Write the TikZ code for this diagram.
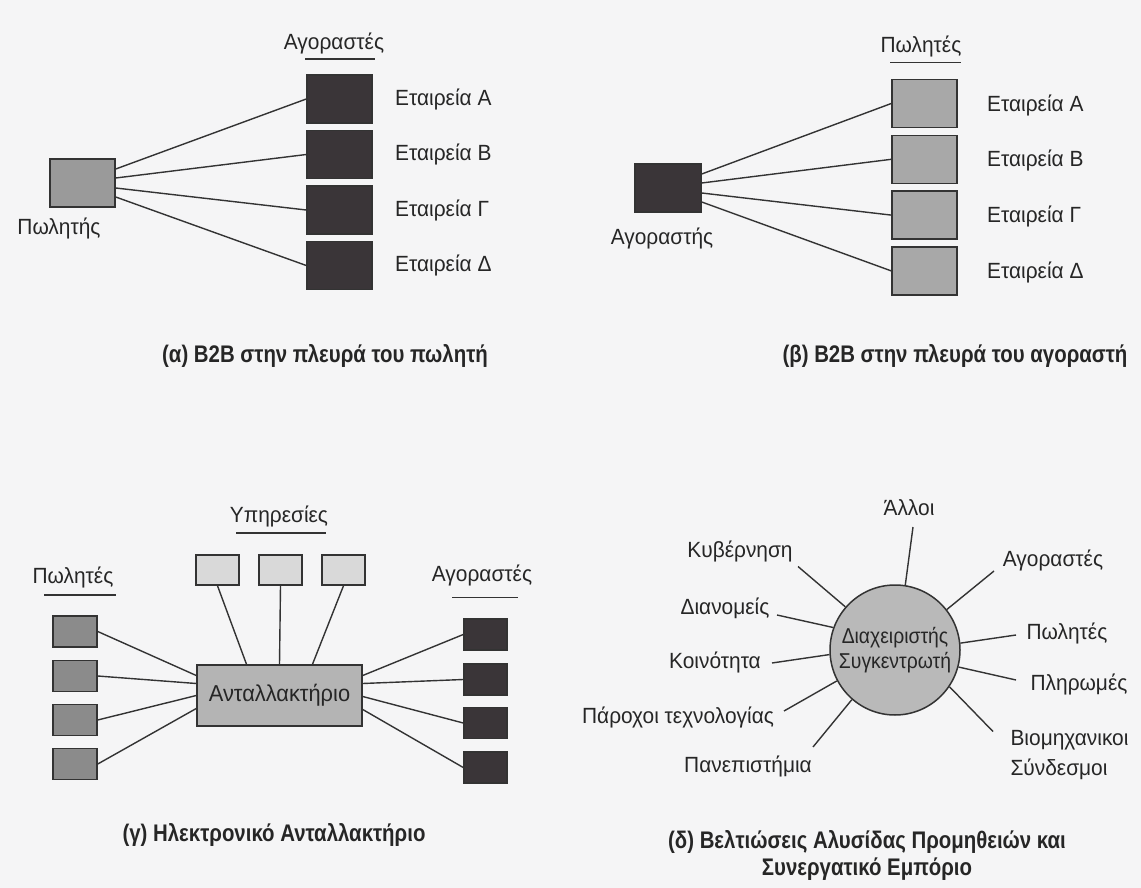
\documentclass[tikz,border=0pt]{standalone}
\usepackage{fontspec}
\setmainfont{Liberation Sans}
\newfontfamily\lblfont[FakeStretch=0.95]{Liberation Sans}
\newfontfamily\hubfont[FakeStretch=0.9]{Liberation Sans}
\newfontfamily\capfont[FakeStretch=0.85]{Liberation Sans}
\usetikzlibrary{calc}
\definecolor{paper}{HTML}{F5F5F6}
\definecolor{ink}{HTML}{262626}
\definecolor{edge}{HTML}{333333}
\definecolor{darkfill}{HTML}{3A3538}
\definecolor{midfill}{HTML}{9A9A9A}
\definecolor{greyfill}{HTML}{A8A8A8}
\definecolor{exfill}{HTML}{B4B4B4}
\definecolor{lightfill}{HTML}{D9D9D9}
\definecolor{hubfill}{HTML}{B9B9B9}
\tikzset{
  lbl/.style={font=\lblfont\fontsize{22}{26}\selectfont, text=ink, inner sep=0pt},
  capt/.style={font=\capfont\bfseries\fontsize{24}{27}\selectfont, text=ink, inner sep=0pt, align=center},
  box/.style={draw=edge, line width=1.5pt, inner sep=0pt},
  bigbox/.style={box, minimum width=65pt, minimum height=48pt},
  smallbox/.style={box, minimum width=44pt, minimum height=31pt},
  darkbox/.style={bigbox, fill=darkfill},
  greybox/.style={bigbox, fill=greyfill},
  link/.style={draw=edge, line width=1.4pt},
  uline/.style={draw=edge, line width=1.5pt},
}
\begin{document}
\begin{tikzpicture}[x=1pt, y=-1pt]
\fill[paper] (0,0) rectangle (1141,888);
\useasboundingbox (0,0) rectangle (1141,888);

% ---------- (a) seller-side B2B ----------
\node[bigbox, fill=midfill] (sA) at (82.5,183) {};
\node[lbl] (sAl) at (59,228) {Πωλητής};
\node[lbl] (hA) at (334,43) {Αγοραστές};
\draw[uline] (305,59) -- (375,59);
\foreach \i/\y/\t in {1/99/Α, 2/154.5/Β, 3/210/Γ, 4/265.5/Δ}{
  \node[darkbox] (a\i) at (339.5,\y) {};
  \node[lbl, anchor=west] (a\i l) at (395,\y) {Εταιρεία \t};
}
\foreach \i/\d in {1/-14, 2/-5, 3/5, 4/14}{
  \draw[link] ($(sA.east)+(0,\d)$) -- (a\i.west);
}
\node[capt] (capA) at (325,356) {(α) B2B στην πλευρά του πωλητή};

% ---------- (b) buyer-side B2B ----------
\node[darkbox, minimum width=66pt] (bB) at (668,188) {};
\node[lbl] (bBl) at (662,238) {Αγοραστής};
\node[lbl] (hB) at (921,46) {Πωλητές};
\draw[uline] (890,62.5) -- (961,62.5);
\foreach \i/\y/\t in {1/103.5/Α, 2/159.3/Β, 3/215.1/Γ, 4/270.9/Δ}{
  \node[greybox] (b\i) at (924.5,\y) {};
  \node[lbl, anchor=west] (b\i l) at (987,\y+1.5) {Εταιρεία \t};
}
\foreach \i/\d in {1/-14, 2/-5, 3/5, 4/14}{
  \draw[link] ($(bB.east)+(0,\d)$) -- (b\i.west);
}
\node[capt] (capB) at (955,356) {(β) B2B στην πλευρά του αγοραστή};

% ---------- (c) electronic exchange ----------
\node[box, fill=exfill, minimum width=165pt, minimum height=61pt,
      font=\lblfont\fontsize{23}{27}\selectfont, text=ink] (ex) at (279.5,695.5) {Ανταλλακτήριο};
\node[lbl] (hS) at (279,516) {Υπηρεσίες};
\draw[uline] (236,533) -- (326,533);
\node[lbl] (hP) at (73,577) {Πωλητές};
\draw[uline] (44,595) -- (116,595);
\node[lbl] (hG) at (482,575) {Αγοραστές};
\draw[uline] (452,597.5) -- (518,597.5);
\foreach \i/\x/\d in {1/217.5/-33, 2/280.5/0, 3/343.5/33}{
  \node[box, fill=lightfill, minimum width=43pt, minimum height=30pt] (s\i) at (\x,570) {};
  \draw[link] (s\i.south) -- ($(ex.north)+(\d,0)$);
}
\foreach \i/\y/\d in {1/631.5/-20, 2/676/-12, 3/720/0, 4/764/13}{
  \node[smallbox, fill=midfill!90!black] (p\i) at (75,\y) {};
  \draw[link] (p\i.east) -- ($(ex.west)+(0,\d)$);
}
\foreach \i/\y/\d in {1/634.5/-20, 2/679.5/-12, 3/723/1, 4/767.5/14}{
  \node[smallbox, minimum width=43pt, fill=darkfill] (g\i) at (485.5,\y) {};
  \draw[link] ($(ex.east)+(0,\d)$) -- (g\i.west);
}
\node[capt] (capC) at (274,835) {(γ) Ηλεκτρονικό Ανταλλακτήριο};

% ---------- (d) collaborative commerce hub ----------
\node[circle, draw=edge, line width=1.5pt, fill=hubfill, minimum size=130pt, inner sep=0pt,
      align=center, text=ink, font=\hubfont\fontsize{21.5}{25}\selectfont] (hub) at (895,650)
      {Διαχειριστής\\Συγκεντρωτή};
\foreach \n/\lx/\ly/\t/\ox/\oy/\ang in {
   allo/909/508/Άλλοι/913/527/81.4,
   kyv/740/551/Κυβέρνηση/798/566.5/139.5,
   agor/1053/560/Αγοραστές/994/571/38.5,
   dian/725/608/Διανομείς/777/615/160.5,
   pol/1067/633/Πωλητές/1016/635/6.7,
   koin/715/662/Κοινότητα/772/663/184.2,
   plir/1079/684.5/Πληρωμές/1016/680/-15.3,
   par/678/717/Πάροχοι τεχνολογίας/784/711/208.4,
   pan/748/766/Πανεπιστήμια/813/747/229.5}{
  \node[lbl] (\n) at (\lx,\ly) {\t};
  \coordinate (\n o) at (\ox,\oy);
  \draw[link] (\n o) -- (hub.\ang);
}
\node[lbl, align=left, font=\lblfont\fontsize{22}{30}\selectfont] (biom) at (1069.5,755.5) {Βιομηχανικοι\\Σύνδεσμοι};
\coordinate (biomo) at (993,731.5);
\draw[link] (biomo) -- (hub.-34.4);
\node[capt] (capD) at (867,855.5) {(δ) Βελτιώσεις Αλυσίδας Προμηθειών και\\Συνεργατικό Εμπόριο};
\end{tikzpicture}
\end{document}
